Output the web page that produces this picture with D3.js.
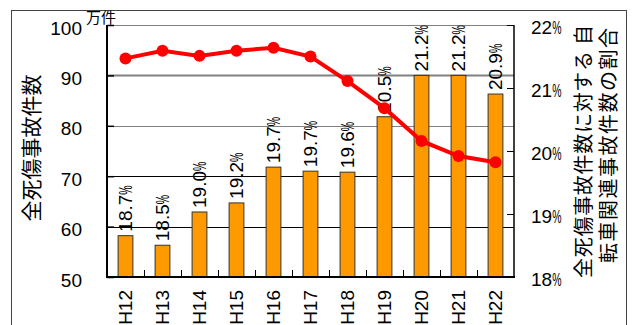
<!DOCTYPE html>
<html><head><meta charset="utf-8">
<script src="https://cdn.jsdelivr.net/npm/d3@7"></script>
<style>
html,body{margin:0;padding:0;background:#fff;}
svg{display:block;}
text{font-family:"Liberation Sans",Arial,sans-serif;fill:#000;}
.cjk{font-family:"Noto Sans CJK JP","Noto Sans",sans-serif;}
</style></head>
<body>
<script>
// ---- data ----
const categories = ["H12","H13","H14","H15","H16","H17","H18","H19","H20","H21","H22"];
const accidents = [58.2, 56.3, 62.9, 64.7, 71.8, 71.0, 70.8, 81.8, 90.0, 90.0, 86.3]; // 万件
const ratioLine = [21.47, 21.59, 21.51, 21.59, 21.64, 21.50, 21.11, 20.68, 20.16, 19.92, 19.82]; // %
const ratioLabels = ["18.7","18.5","19.0","19.2","19.7","19.7","19.6","20.5","21.2","21.2","20.9"];
const leftTicks = [50, 60, 70, 80, 90, 100];
const rightTicks = [18, 19, 20, 21, 22];
const leftTitle = "全死傷事故件数";
const rightTitle = ["全死傷事故件数に対する 自", "転車関連事故件数の割合"];
const unitLabel = "万件";

// ---- layout ----
const W = 632, H = 325;
const L = 107, R = 514, T = 25, B = 277;

const svg = d3.select("body").append("svg").attr("width", W).attr("height", H);

// frame
svg.append("rect").attr("x", 11.5).attr("y", 10.5).attr("width", 615).attr("height", 340)
  .attr("fill", "none").attr("stroke", "#444").attr("stroke-width", 1);

const x = d3.scaleBand().domain(categories).range([L, R]).paddingInner(0.6).paddingOuter(0.3);
const yL = d3.scaleLinear().domain([50, 100]).range([B, T]);
const yR = d3.scaleLinear().domain([18, 22]).range([B, T]);

// gridlines
const gridColor = v => (v >= 80 ? "#808080" : "#000");
const gridWidth = v => (v === 90 ? 2 : 1);
svg.append("g").selectAll("line").data(leftTicks.filter(v => v > 50)).join("line")
  .attr("x1", L).attr("x2", R)
  .attr("y1", d => Math.round(yL(d)) + 0.5).attr("y2", d => Math.round(yL(d)) + 0.5)
  .attr("stroke", gridColor).attr("stroke-width", gridWidth);

// bars
svg.append("g").selectAll("rect").data(categories).join("rect")
  .attr("x", d => x(d)).attr("width", x.bandwidth())
  .attr("y", (d, i) => yL(accidents[i]))
  .attr("height", (d, i) => B - yL(accidents[i]))
  .attr("fill", "#ff9900").attr("stroke", "#333").attr("stroke-width", 1);

// helper: number + narrow percent sign
function pct(g, num, size) {
  const t = g.append("text").attr("font-size", size).attr("dy", "0.36em").text(num);
  const w = t.node().getComputedTextLength();
  g.append("text").attr("font-size", size).attr("dy", "0.36em")
    .attr("transform", `translate(${w},0) scale(0.55,1)`).text("%");
  return w;
}

// bar labels (rotated)
categories.forEach((c, i) => {
  const g = svg.append("g")
    .attr("transform", `translate(${x(c) + x.bandwidth() / 2},${yL(accidents[i]) - 4}) rotate(-90)`);
  pct(g, ratioLabels[i], 19);
});

// left axis
const axL = svg.append("g").attr("transform", `translate(${L},0)`)
  .call(d3.axisLeft(yL).tickValues(leftTicks).tickSize(-7).tickPadding(25));
axL.select(".domain").remove();
axL.selectAll("line").attr("stroke", "#000").attr("stroke-width", 1.5);
axL.selectAll("text").attr("font-size", 19).attr("dy", "0.48em")
  .attr("font-family", "Liberation Sans, Arial, sans-serif").attr("fill", "#000");
svg.append("line").attr("x1", L).attr("x2", L).attr("y1", T).attr("y2", B + 1)
  .attr("stroke", "#000").attr("stroke-width", 2);

// right axis
const axR = svg.append("g").attr("transform", `translate(${R},0)`)
  .call(d3.axisRight(yR).tickValues(rightTicks).tickSize(-7).tickFormat(""));
axR.select(".domain").remove();
axR.selectAll("line").attr("stroke", "#000").attr("stroke-width", 1);
svg.append("line").attr("x1", R).attr("x2", R).attr("y1", T).attr("y2", B + 1)
  .attr("stroke", "#000").attr("stroke-width", 1.5);
rightTicks.forEach(v => {
  const g = svg.append("g").attr("transform", `translate(${R + 17},${yR(v) + 2.4})`);
  pct(g, String(v), 19);
});

// bottom axis
const axB = svg.append("g").attr("transform", `translate(0,${B})`)
  .call(d3.axisBottom(x).tickSize(0).tickFormat(""));
axB.select(".domain").remove();
svg.append("line").attr("x1", L - 1).attr("x2", R + 1).attr("y1", B).attr("y2", B)
  .attr("stroke", "#000").attr("stroke-width", 2);
svg.append("g").selectAll("line").data(categories.slice(1)).join("line")
  .attr("x1", d => Math.round(x(d) - x.step() * x.paddingInner() / 2) + 0.5)
  .attr("x2", d => Math.round(x(d) - x.step() * x.paddingInner() / 2) + 0.5)
  .attr("y1", B).attr("y2", B - 7).attr("stroke", "#000").attr("stroke-width", 1);
categories.forEach(c => {
  svg.append("text")
    .attr("transform", `translate(${x(c) + x.bandwidth() / 2},290) rotate(-90)`)
    .attr("text-anchor", "end").attr("dy", "0.36em").attr("font-size", 19).text(c);
});

// line series
const line = d3.line().x((d, i) => x(categories[i]) + x.bandwidth() / 2).y(d => yR(d));
svg.append("path").datum(ratioLine).attr("d", line)
  .attr("fill", "none").attr("stroke", "#ff0000").attr("stroke-width", 4);
svg.append("g").selectAll("circle").data(ratioLine).join("circle")
  .attr("cx", (d, i) => x(categories[i]) + x.bandwidth() / 2).attr("cy", d => yR(d))
  .attr("r", 6).attr("fill", "#ff0000");

// unit label
svg.append("text").attr("class", "cjk").attr("x", 86).attr("y", 23)
  .attr("font-size", 15).text(unitLabel);

// axis titles
svg.append("text").attr("class", "cjk")
  .attr("transform", "translate(30,148) rotate(-90)")
  .attr("text-anchor", "middle").attr("dominant-baseline", "central")
  .attr("font-size", 21).text(leftTitle);
svg.append("text").attr("class", "cjk")
  .attr("transform", "translate(582,151.5) rotate(-90)")
  .attr("text-anchor", "middle").attr("dominant-baseline", "central")
  .attr("font-size", 20).attr("textLength", 253).attr("lengthAdjust", "spacing").text(rightTitle[0]);
svg.append("text").attr("class", "cjk")
  .attr("transform", "translate(607,145.5) rotate(-90)")
  .attr("text-anchor", "middle").attr("dominant-baseline", "central")
  .attr("font-size", 20).attr("textLength", 235).attr("lengthAdjust", "spacing").text(rightTitle[1]);
</script>
</body></html>
